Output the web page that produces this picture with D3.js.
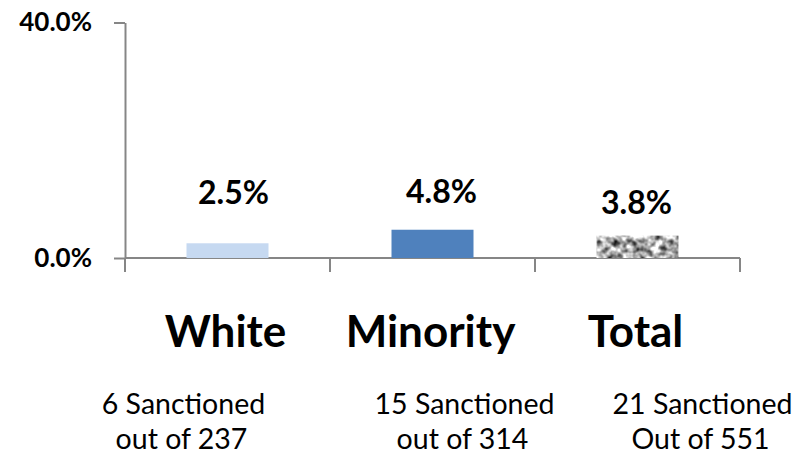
<!DOCTYPE html>
<html>
<head>
<meta charset="utf-8">
<script src="https://cdn.jsdelivr.net/npm/d3@7"></script>
<style>
  body { margin: 0; background: #ffffff; }
  text { font-family: Lato, "Open Sans", sans-serif; fill: #000; }
</style>
</head>
<body>
<script>
// chart data
const categories = ['White', 'Minority', 'Total'];
const rates = [2.5, 4.8, 3.8];
const counts = ['6 Sanctioned', '15 Sanctioned', '21 Sanctioned'];
const totals = ['out of 237', 'out of 314', 'Out of 551'];
const yTicks = [0, 40];

const width = 800;
const height = 456;
const colors = ['#C6D9F1', '#4F81BD', '#A8A8A8'];

// small per-label nudges
const valueDy = [-39, -27, -22];
const valueDx = [6, 9, -1];
const noteDx = [-44, 32, 65];

var svg = d3.select('body')
  .append('svg')
  .attr('width', width)
  .attr('height', height);

// grainy gray texture for the Total bar
var defs = svg.append('defs');
var filt = defs.append('filter')
  .attr('id', 'noise')
  .attr('color-interpolation-filters', 'sRGB')
  .attr('x', 0).attr('y', 0).attr('width', 1).attr('height', 1);
filt.append('feTurbulence')
  .attr('type', 'fractalNoise')
  .attr('baseFrequency', 0.15)
  .attr('numOctaves', 2)
  .attr('seed', 7)
  .attr('result', 'turb');
filt.append('feColorMatrix')
  .attr('in', 'turb')
  .attr('type', 'matrix')
  .attr('values', '1.6 0 0 0 -0.12  1.6 0 0 0 -0.12  1.6 0 0 0 -0.12  0 0 0 0 1')
  .attr('result', 'gray');
filt.append('feComposite')
  .attr('in', 'gray')
  .attr('in2', 'SourceGraphic')
  .attr('operator', 'in');

var x = d3.scaleBand()
  .domain(categories)
  .range([125, 740])
  .paddingInner(0.6)
  .paddingOuter(0.3);

var y = d3.scaleLinear()
  .domain([0, 40])
  .range([258, 22.5]);

// y axis
var yAxis = svg.append('g')
  .attr('transform', 'translate(125,0)')
  .call(d3.axisLeft(y)
    .tickValues(yTicks)
    .tickSize(11)
    .tickSizeOuter(0)
    .tickPadding(22)
    .tickFormat(d => d.toFixed(1) + '%'));
yAxis.select('.domain').attr('stroke', '#868686').attr('stroke-width', 2);
yAxis.selectAll('.tick line').attr('stroke', '#868686').attr('stroke-width', 2);
yAxis.selectAll('.tick text')
  .style('font-family', 'Lato, sans-serif')
  .style('font-size', '26px')
  .style('font-weight', 'bold')
  .attr('fill', '#000');

// x axis line and category boundary ticks
var xAxis = svg.append('g');
xAxis.append('line')
  .attr('x1', x.range()[0]).attr('x2', x.range()[1])
  .attr('y1', y(0)).attr('y2', y(0))
  .attr('stroke', '#868686').attr('stroke-width', 2);
var bounds = d3.range(categories.length + 1)
  .map(i => x.range()[0] + i * x.step());
xAxis.selectAll('.bt')
  .data(bounds)
  .enter().append('line')
  .attr('class', 'bt')
  .attr('x1', d => d).attr('x2', d => d)
  .attr('y1', y(0)).attr('y2', y(0) + 14)
  .attr('stroke', '#868686').attr('stroke-width', 2);

// bars
svg.selectAll('.bar')
  .data(rates)
  .enter().append('rect')
  .attr('class', 'bar')
  .attr('x', (d, i) => x(categories[i]))
  .attr('y', d => y(d))
  .attr('width', x.bandwidth())
  .attr('height', d => y(0) - y(d))
  .attr('fill', (d, i) => colors[i])
  .attr('filter', (d, i) => i === 2 ? 'url(#noise)' : null);

// value labels
svg.selectAll('.val')
  .data(rates)
  .enter().append('text')
  .attr('class', 'val')
  .attr('x', (d, i) => x(categories[i]) + x.bandwidth() / 2 + valueDx[i])
  .attr('y', (d, i) => y(d) + valueDy[i])
  .style('text-anchor', 'middle')
  .style('font-size', '32px')
  .style('font-weight', 'bold')
  .text(d => d.toFixed(1) + '%');

// category names
svg.selectAll('.cat')
  .data(categories)
  .enter().append('text')
  .attr('class', 'cat')
  .attr('x', d => x(d) + x.bandwidth() / 2 - 2)
  .attr('y', 347)
  .style('text-anchor', 'middle')
  .style('font-size', '44px')
  .style('font-weight', 'bold')
  .text(d => d);

// notes under each category
var notes = svg.selectAll('.note')
  .data(categories)
  .enter().append('text')
  .attr('class', 'note')
  .style('text-anchor', 'middle')
  .style('font-size', '28.5px');
notes.append('tspan')
  .attr('x', (d, i) => x(d) + x.bandwidth() / 2 + noteDx[i])
  .attr('y', 414)
  .text((d, i) => counts[i]);
notes.append('tspan')
  .attr('x', (d, i) => x(d) + x.bandwidth() / 2 + noteDx[i] - 2)
  .attr('y', 449)
  .text((d, i) => totals[i]);
</script>
</body>
</html>
